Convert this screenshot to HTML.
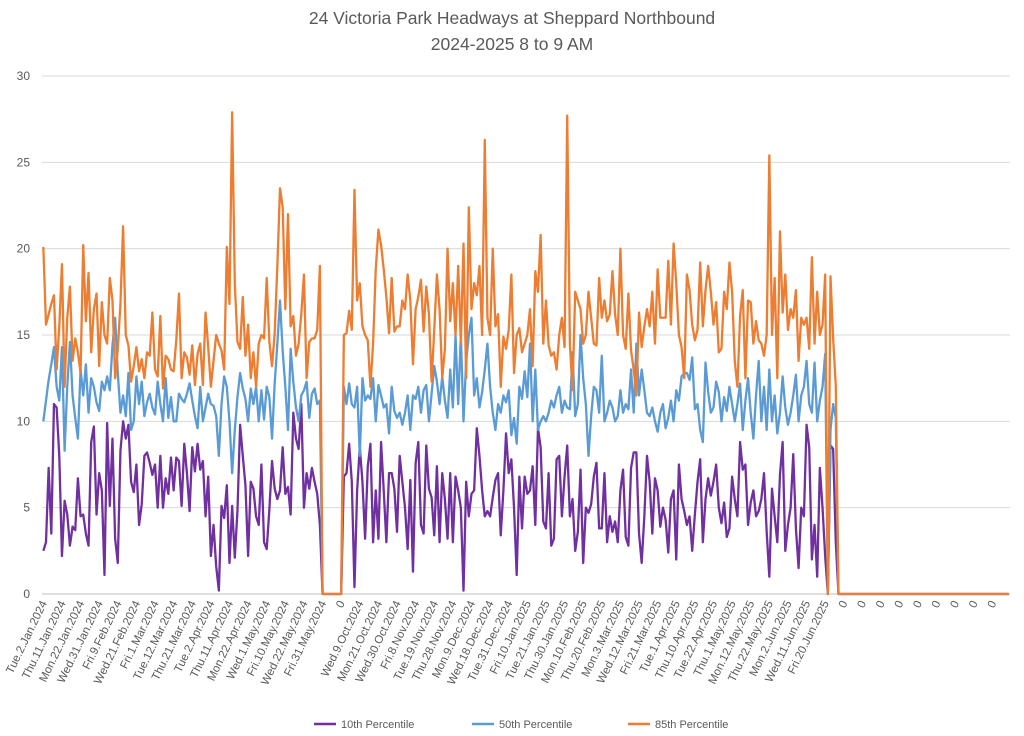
<!DOCTYPE html>
<html><head><meta charset="utf-8"><style>
body{margin:0;background:#fff;}
svg{display:block;font-family:"Liberation Sans",Arial,sans-serif;}
</style></head><body>
<svg id="chart" width="1024" height="736" viewBox="0 0 1024 736">
<text x="512" y="24" text-anchor="middle" font-size="17.5" fill="#595959">24 Victoria Park Headways at Sheppard Northbound</text>
<text x="512" y="50" text-anchor="middle" font-size="17.5" fill="#595959">2024-2025 8 to 9 AM</text>
<g id="grid"></g>
<g id="ylab"></g>
<g id="xlab"></g>
<g id="series"></g>
<g>
<g><line x1="314" y1="724" x2="336" y2="724" stroke="#7030A0" stroke-width="2.5"/><text x="341" y="728" font-size="11" fill="#595959">10th Percentile</text></g>
<g><line x1="472" y1="724" x2="494" y2="724" stroke="#5B9BD5" stroke-width="2.5"/><text x="499" y="728" font-size="11" fill="#595959">50th Percentile</text></g>
<g><line x1="628" y1="724" x2="650" y2="724" stroke="#ED7D31" stroke-width="2.5"/><text x="655" y="728" font-size="11" fill="#595959">85th Percentile</text></g>
</g>
</svg>
<script>
const N = 364;
const tickLabels = ["Tue.2.Jan.2024","Thu.11.Jan.2024","Mon.22.Jan.2024","Wed.31.Jan.2024","Fri.9.Feb.2024","Wed.21.Feb.2024","Fri.1.Mar.2024","Tue.12.Mar.2024","Thu.21.Mar.2024","Tue.2.Apr.2024","Thu.11.Apr.2024","Mon.22.Apr.2024","Wed.1.May.2024","Fri.10.May.2024","Wed.22.May.2024","Fri.31.May.2024","0","Wed.9.Oct.2024","Mon.21.Oct.2024","Wed.30.Oct.2024","Fri.8.Nov.2024","Tue.19.Nov.2024","Thu.28.Nov.2024","Mon.9.Dec.2024","Wed.18.Dec.2024","Tue.31.Dec.2024","Fri.10.Jan.2025","Tue.21.Jan.2025","Thu.30.Jan.2025","Mon.10.Feb.2025","Thu.20.Feb.2025","Mon.3.Mar.2025","Wed.12.Mar.2025","Fri.21.Mar.2025","Tue.1.Apr.2025","Thu.10.Apr.2025","Tue.22.Apr.2025","Thu.1.May.2025","Mon.12.May.2025","Thu.22.May.2025","Mon.2.Jun.2025","Wed.11.Jun.2025","Fri.20.Jun.2025","0","0","0","0","0","0","0","0","0"];
const yTicks = [0,5,10,15,20,25,30];
const gapStart = 113; // index where second segment begins

const p85Seg1 = [20.1,15.6,16.2,16.8,17.3,13.0,15.5,19.1,12.0,16.0,17.8,13.5,14.8,14.0,12.8,20.2,15.8,18.6,14.0,16.5,17.4,13.2,16.9,15.0,14.5,18.3,17.0,12.5,14.2,16.8,21.3,15.0,14.4,12.3,13.2,14.3,12.9,13.6,12.5,14.0,13.8,16.3,13.0,12.6,16.1,11.9,13.8,13.6,13.0,12.9,14.7,17.4,12.5,14.0,13.7,12.7,14.4,12.1,13.9,14.5,12.1,16.3,14.3,12.0,13.5,15.0,14.5,14.1,13.0,20.1,16.8,27.9,18.0,14.6,14.2,17.2,13.8,15.6,12.5,14.0,12.0,14.5,15.0,14.8,18.3,14.6,13.2,15.1,19.0,23.5,22.4,16.5,22.0,15.5,16.1,13.8,14.5,16.2,18.5,12.5,14.6,14.8,14.8,15.3,19.0];
const p50Seg1 = [10.0,11.2,12.4,13.3,14.3,12.0,11.2,14.3,8.3,12.0,14.6,11.5,10.2,9.0,13.0,11.5,13.3,10.5,12.5,12.0,11.1,10.6,12.3,11.8,12.6,11.8,14.4,16.0,12.8,10.5,11.5,10.3,12.8,9.5,10.0,12.6,11.0,12.3,10.3,11.1,11.6,10.8,10.4,12.3,11.0,10.0,12.5,10.2,11.4,10.0,10.0,11.6,11.3,11.1,11.6,12.2,11.2,10.3,9.6,12.0,10.0,10.8,11.6,11.0,10.9,10.3,8.0,11.0,12.6,12.0,10.0,7.0,9.5,11.4,12.8,11.9,11.3,10.0,11.9,11.0,12.0,10.0,11.8,10.1,12.0,11.4,9.0,12.2,14.5,17.0,14.1,12.0,9.5,14.2,12.3,10.8,10.0,11.5,11.8,12.3,10.2,11.6,11.9,11.0,11.2];
const p10Seg1 = [2.5,3.0,7.3,3.5,11.0,10.8,8.0,2.2,5.4,4.6,2.8,3.9,3.7,6.7,4.5,4.6,3.5,2.8,8.8,9.7,4.6,7.0,6.0,1.1,9.9,5.1,9.0,3.2,1.8,8.3,10.0,9.0,9.8,6.5,5.9,7.5,4.0,5.2,8.0,8.2,7.6,6.9,7.5,5.0,8.0,5.0,6.7,5.8,7.9,6.0,7.9,7.7,5.1,8.7,7.0,4.8,8.5,7.1,8.7,7.2,7.7,4.5,6.8,2.2,4.0,1.6,0.2,5.1,4.4,6.3,1.8,5.1,2.1,4.8,9.8,8.0,6.3,2.2,6.5,6.1,4.5,4.0,7.5,3.0,2.6,4.9,7.7,6.1,5.5,6.0,8.5,5.8,6.2,4.6,10.5,9.0,8.4,11.0,5.0,7.0,6.1,7.3,6.5,5.8,4.0];

const p85Seg2 = [15.0,15.1,16.4,15.3,23.4,17.0,18.0,15.5,15.0,14.7,12.0,14.5,18.8,21.1,20.2,18.8,17.2,15.1,18.3,15.2,
15.5,15.5,17.0,16.5,18.5,17.0,13.3,16.5,17.2,18.2,15.2,17.8,16.2,12.3,15.3,18.5,16.5,12.5,14.2,20.0,
15.8,18.0,15.0,19.0,14.5,20.3,12.5,22.4,16.5,18.0,17.3,19.0,15.0,26.3,16.0,15.0,20.0,15.5,16.2,12.0,
14.9,14.2,15.3,18.5,12.8,15.0,15.4,14.0,14.5,15.0,16.5,13.2,18.7,17.5,20.8,14.5,17.0,14.4,13.8,14.0,
13.0,15.0,16.0,14.3,27.7,14.5,11.8,17.5,17.0,16.5,14.5,15.0,17.5,16.0,14.5,14.4,18.3,16.0,17.0,15.8,
16.2,18.7,16.2,15.0,20.0,15.0,14.2,17.4,14.1,13.0,11.5,16.3,14.3,15.5,16.5,15.5,17.5,14.5,18.8,16.0,
16.0,16.0,19.3,15.6,20.3,18.0,15.0,14.3,12.5,18.5,17.6,15.6,14.7,15.3,19.2,15.5,17.6,19.0,17.5,15.6,
16.9,14.0,14.2,17.5,16.5,19.2,17.5,13.5,12.0,16.1,17.6,12.5,17.0,16.9,14.5,15.8,14.7,14.5,13.8,15.0,
25.4,15.0,18.3,12.5,21.0,16.3,18.5,15.3,16.5,16.0,17.6,13.5,16.0,15.6,16.0,14.2,19.5,14.5,17.5,15.0,
15.6,18.5,0,18.4,14.8,12.0];
const p50Seg2 = [12.0,11.0,12.2,11.0,10.8,12.0,8.0,12.5,11.2,11.5,11.3,12.5,10.0,12.1,11.5,10.8,11.0,9.3,12.0,10.6,
10.2,10.5,9.8,10.5,11.5,9.5,11.5,11.3,12.0,10.5,11.8,12.1,10.0,11.6,13.2,12.3,11.0,12.6,11.2,10.2,
13.0,10.8,15.0,11.0,15.0,10.0,13.5,15.0,16.0,11.5,12.5,10.8,11.7,13.0,14.5,12.0,10.5,9.5,11.0,10.5,
11.5,11.1,11.8,9.2,10.2,8.7,12.0,11.3,12.9,11.4,14.5,10.0,13.0,9.5,10.0,10.3,10.0,10.5,11.2,10.8,
11.5,12.0,10.5,11.2,10.8,10.7,14.0,10.3,11.0,15.0,12.5,11.0,8.0,10.3,12.0,11.8,10.5,13.8,10.0,10.5,
11.2,10.8,10.0,10.3,11.8,10.5,11.0,10.7,13.0,10.5,14.5,11.5,13.0,11.8,10.5,10.3,10.8,10.0,9.4,10.5,
11.0,9.6,10.2,11.2,10.0,11.8,11.2,12.6,12.8,12.8,12.4,13.7,10.7,11.0,9.5,8.8,13.4,11.7,10.5,10.8,
12.3,11.7,10.0,11.4,10.6,12.0,11.0,10.0,11.0,12.2,9.5,11.2,12.5,10.5,9.0,11.5,13.5,10.0,12.0,9.5,
13.0,10.0,11.5,9.3,10.5,12.6,10.8,9.8,10.5,11.5,12.7,10.0,11.5,12.0,13.5,11.0,10.5,13.4,10.0,11.2,
12.0,13.9,0,9.5,11.0,10.2];
const p10Seg2 = [6.8,7.0,8.7,6.5,0.4,6.0,8.5,6.5,3.2,7.4,8.7,3.0,6.0,3.2,8.8,6.0,3.0,7.0,7.0,6.1,
3.6,8.0,6.5,5.0,2.6,6.6,1.3,7.6,8.8,4.0,3.5,8.6,6.1,5.6,3.4,7.4,3.0,7.0,5.5,3.2,
7.0,3.0,6.8,6.0,5.0,0.2,6.5,4.5,5.8,6.0,9.6,8.0,6.0,4.5,4.8,4.5,5.6,6.6,7.0,3.4,
6.0,9.3,7.0,7.8,5.0,1.1,6.8,3.8,6.8,5.8,6.0,7.4,4.0,9.6,8.5,4.2,3.8,7.0,2.8,3.2,
7.8,8.0,4.5,6.8,8.6,4.5,5.5,2.5,3.6,7.2,1.8,5.0,4.7,5.2,6.8,7.6,3.8,3.8,7.0,3.0,
4.5,3.6,4.2,3.0,6.0,7.2,3.3,2.8,7.3,8.2,8.2,3.5,1.8,4.5,8.0,6.5,3.5,6.7,6.0,3.9,
5.0,4.3,2.4,5.5,6.0,2.0,7.5,5.5,4.8,4.0,4.5,2.5,4.6,6.5,7.8,3.0,5.5,6.7,5.7,6.5,
7.5,5.0,4.1,5.3,3.3,3.8,6.8,5.5,4.5,8.8,7.2,7.5,4.0,5.3,6.0,4.5,4.8,5.5,7.0,3.6,
1.0,6.1,4.5,3.0,6.9,8.8,2.5,4.0,5.0,8.1,3.8,1.5,5.0,4.5,9.8,8.5,2.0,4.0,1.0,7.3,
5.0,2.2,0,8.6,8.4,3.0];

const X0 = 42, X1 = 1010, Y0 = 594, Y1 = 76, YMAX = 30;
const step = (X1 - X0) / N;
function xPos(i){ return X0 + (i + 0.5) * step; }
function yPos(v){ return Y0 - (v / YMAX) * (Y0 - Y1); }
function build(a, b){
  const out = a.slice();
  while (out.length < gapStart) out.push(0);
  b.forEach(v => out.push(v));
  while (out.length < N) out.push(0);
  return out;
}
const NS = "http://www.w3.org/2000/svg";
const grid = document.getElementById('grid');
const ylab = document.getElementById('ylab');
yTicks.forEach(t => {
  const l = document.createElementNS(NS, 'line');
  
  
  l.setAttribute('x1', X0); l.setAttribute('x2', X1);
  l.setAttribute('y1', yPos(t)); l.setAttribute('y2', yPos(t));
  l.setAttribute('stroke', t === 0 ? '#bfbfbf' : '#d9d9d9'); l.setAttribute('stroke-width', '1');
  grid.appendChild(l);
  const tx = document.createElementNS(NS, 'text');
  
  
  tx.setAttribute('x', 30); tx.setAttribute('y', yPos(t) + 4);
  tx.setAttribute('text-anchor', 'end'); tx.setAttribute('font-size', '12'); tx.setAttribute('fill', '#595959');
  tx.textContent = t;
  ylab.appendChild(tx);
});
const xlab = document.getElementById('xlab');
tickLabels.forEach((s, k) => {
  const x = xPos(k * 7) + 4, y = 603;
  const tx = document.createElementNS(NS, 'text');
  
  
  tx.setAttribute('x', x); tx.setAttribute('y', y);
  tx.setAttribute('text-anchor', 'end'); tx.setAttribute('font-size', '11.5'); tx.setAttribute('fill', '#595959');
  tx.setAttribute('transform', 'rotate(-64 ' + x + ' ' + y + ')');
  tx.textContent = s;
  xlab.appendChild(tx);
});
const seriesG = document.getElementById('series');
[[p10Seg1, p10Seg2, '#7030A0', 'line-10th-percentile'], [p50Seg1, p50Seg2, '#5B9BD5', 'line-50th-percentile'], [p85Seg1, p85Seg2, '#ED7D31', 'line-85th-percentile']].forEach(s => {
  const vals = build(s[0], s[1]);
  const p = document.createElementNS(NS, 'polyline');
  
  
  p.setAttribute('points', vals.map((v, i) => xPos(i).toFixed(2) + ',' + yPos(v).toFixed(2)).join(' '));
  p.setAttribute('fill', 'none'); p.setAttribute('stroke', s[2]); p.setAttribute('stroke-width', '2.3');
  p.setAttribute('stroke-linejoin', 'round');
  seriesG.appendChild(p);
});
</script>
</body></html>
